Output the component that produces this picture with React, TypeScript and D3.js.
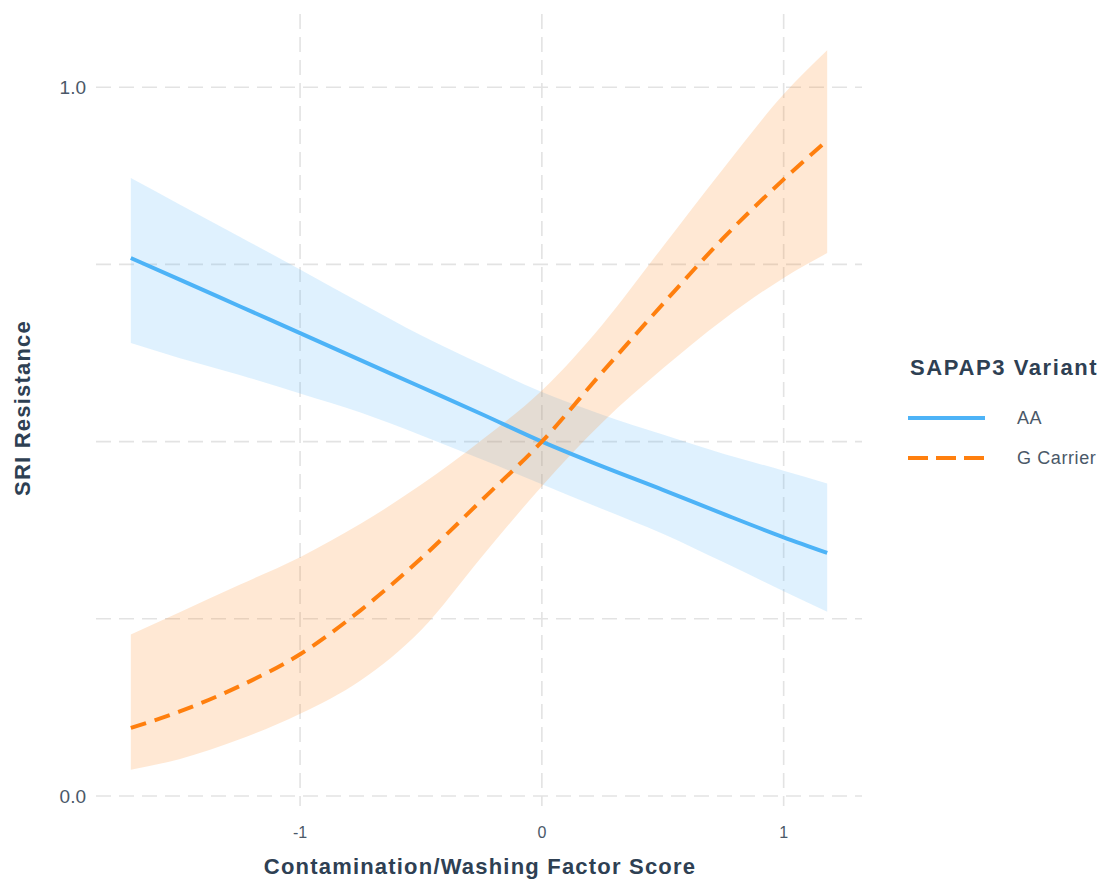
import React from "react";
import * as d3 from "d3";

const xValues = [-1.7, -1.5, -1.25, -1, -0.75, -0.5, -0.25, 0, 0.25, 0.5, 0.75, 1, 1.18];

const aaFit = [0.759, 0.729, 0.691, 0.653, 0.615, 0.577, 0.539, 0.5, 0.465, 0.432, 0.398, 0.365, 0.343];
const aaUpper = [0.872, 0.835, 0.789, 0.743, 0.696, 0.65, 0.609, 0.57, 0.538, 0.51, 0.483, 0.459, 0.441];
const aaLower = [0.639, 0.618, 0.594, 0.568, 0.541, 0.509, 0.475, 0.44, 0.405, 0.37, 0.33, 0.289, 0.26];

const gFit = [0.096, 0.119, 0.155, 0.2, 0.262, 0.335, 0.417, 0.5, 0.598, 0.694, 0.787, 0.87, 0.925];
const gUpper = [0.228, 0.259, 0.298, 0.337, 0.384, 0.439, 0.502, 0.572, 0.665, 0.775, 0.885, 0.99, 1.052];
const gLower = [0.037, 0.052, 0.08, 0.116, 0.163, 0.234, 0.337, 0.437, 0.527, 0.603, 0.672, 0.731, 0.766];

const xTicks = [-1, 0, 1];
const xTickLabels = ["-1", "0", "1"];
const yTicks = [0, 0.25, 0.5, 0.75, 1];
const yTickLabels = ["0.0", "", "", "", "1.0"];

const seriesNames = ["AA", "G Carrier"];
const seriesColors = ["#4DB3F7", "#FF7F0E"];

const W = 1101;
const H = 880;

export default function App() {
  const x = d3.scaleLinear().domain([-1.844, 1.324]).range([96, 862]);
  const y = d3.scaleLinear().domain([-0.0141, 1.1033]).range([806, 14]);

  const series = [
    { fit: aaFit, lo: aaLower, hi: aaUpper },
    { fit: gFit, lo: gLower, hi: gUpper },
  ];

  const area = d3
    .area<number>()
    .x((_, i) => x(xValues[i]))
    .curve(d3.curveMonotoneX);
  const line = d3
    .line<number>()
    .x((_, i) => x(xValues[i]))
    .y((d) => y(d))
    .curve(d3.curveMonotoneX);

  const gridColor = "#E3E3E3";
  const gridDash = "15 8";
  const font = "'Liberation Sans', Arial, Helvetica, sans-serif";
  const tickColor = "#4A5868";
  const titleColor = "#2E4053";

  return (
    <svg
      width={W}
      height={H}
      style={{ position: "absolute", left: 0, top: 0, background: "#fff" }}
      fontFamily={font}
    >
      {yTicks.map((t) => (
        <line
          key={"gy" + t}
          x1={96}
          x2={862}
          y1={y(t)}
          y2={y(t)}
          stroke={gridColor}
          strokeWidth={1.6}
          strokeDasharray={gridDash}
        />
      ))}
      {xTicks.map((t) => (
        <line
          key={"gx" + t}
          x1={x(t)}
          x2={x(t)}
          y1={14}
          y2={806}
          stroke={gridColor}
          strokeWidth={1.6}
          strokeDasharray={gridDash}
        />
      ))}

      {series.map((s, k) => (
        <path
          key={"rib" + k}
          d={
            area
              .y0((_, i) => y(s.lo[i]))
              .y1((_, i) => y(s.hi[i]))(s.fit) || ""
          }
          fill={seriesColors[k]}
          fillOpacity={0.18}
          stroke="none"
        />
      ))}

      {series.map((s, k) => (
        <path
          key={"line" + k}
          d={line(s.fit) || ""}
          fill="none"
          stroke={seriesColors[k]}
          strokeWidth={4}
          strokeDasharray={k === 1 ? "16 9" : undefined}
        />
      ))}

      {yTicks.map((t, i) =>
        yTickLabels[i] ? (
          <text
            key={"yl" + t}
            x={86}
            y={y(t)}
            dy="0.35em"
            textAnchor="end"
            fontSize={19}
            fill={tickColor}
          >
            {yTickLabels[i]}
          </text>
        ) : null
      )}
      {xTicks.map((t, i) => (
        <text
          key={"xl" + t}
          x={x(t)}
          y={832}
          dy="0.35em"
          textAnchor="middle"
          fontSize={16}
          fill={tickColor}
        >
          {xTickLabels[i]}
        </text>
      ))}

      <text
        x={480}
        y={866}
        dy="0.35em"
        textAnchor="middle"
        fontSize={22}
        letterSpacing={1.2}
        fontWeight="bold"
        fill={titleColor}
      >
        Contamination/Washing Factor Score
      </text>
      <text
        transform={`translate(22,408) rotate(-90)`}
        dy="0.35em"
        textAnchor="middle"
        fontSize={22}
        letterSpacing={1.2}
        fontWeight="bold"
        fill={titleColor}
      >
        SRI Resistance
      </text>

      <text
        x={910}
        y={367}
        dy="0.35em"
        fontSize={22}
        letterSpacing={1.6}
        fontWeight="bold"
        fill={titleColor}
      >
        SAPAP3 Variant
      </text>
      {seriesNames.map((n, k) => (
        <g key={"lg" + k}>
          <line
            x1={908}
            x2={985}
            y1={418 + k * 40}
            y2={418 + k * 40}
            stroke={seriesColors[k]}
            strokeWidth={4}
            strokeDasharray={k === 1 ? "20 8" : undefined}
          />
          <text
            x={1017}
            y={418 + k * 40}
            dy="0.35em"
            fontSize={18}
            letterSpacing={0.6}
            fill={tickColor}
          >
            {n}
          </text>
        </g>
      ))}
    </svg>
  );
}
